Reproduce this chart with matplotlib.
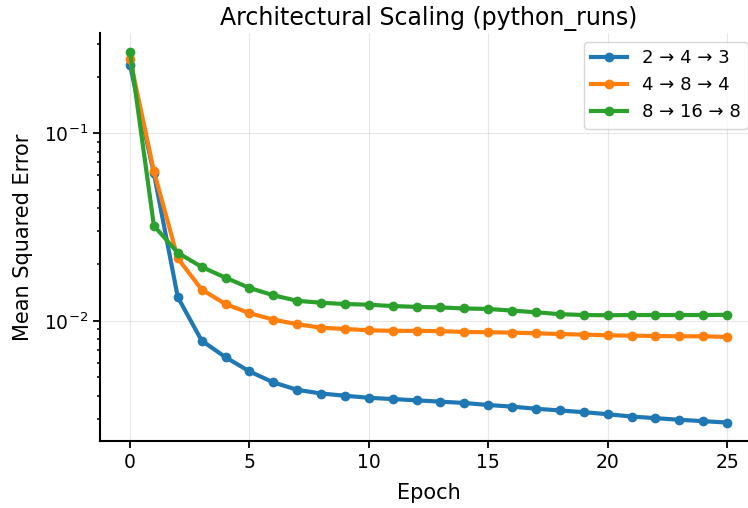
import matplotlib.pyplot as plt
import numpy as np

epochs = list(range(26))

labels = ['2 → 4 → 3', '4 → 8 → 4', '8 → 16 → 8']

mse_small = [0.231, 0.0612, 0.0134, 0.00785, 0.00640, 0.00538, 0.00470, 0.00429,
             0.00410, 0.00399, 0.00389, 0.00383, 0.00377, 0.00371, 0.00365, 0.00356,
             0.00349, 0.00340, 0.00333, 0.00326, 0.00318, 0.00309, 0.00303, 0.00297,
             0.00292, 0.00287]
mse_medium = [0.250, 0.0629, 0.0216, 0.0147, 0.0123, 0.0110, 0.01016, 0.00960,
              0.00920, 0.00906, 0.00891, 0.00885, 0.00885, 0.00882, 0.00873, 0.00870,
              0.00866, 0.00859, 0.00851, 0.00845, 0.00838, 0.00834, 0.00831, 0.00828,
              0.00828, 0.00821]
mse_large = [0.273, 0.0322, 0.0231, 0.0194, 0.0170, 0.0150, 0.0137, 0.0128,
             0.0125, 0.0123, 0.0122, 0.0120, 0.01188, 0.01180, 0.01165, 0.01158,
             0.01135, 0.01112, 0.01086, 0.01075, 0.01072, 0.01075, 0.01075, 0.01075,
             0.01075, 0.01078]

colors = ['#1f77b4', '#ff7f0e', '#2ca02c']

fig = plt.figure(figsize=(7.48, 5.08), dpi=100)
ax = fig.add_axes([0.1339, 0.132, 0.878, 0.803])

for series, label, color in zip([mse_small, mse_medium, mse_large], labels, colors):
    ax.plot(epochs, series, '-o', color=color, label=label, linewidth=3, markersize=6)

ax.set_yscale('log')
ax.set_xlim(-1.25, 26.25)
ax.set_ylim(0.00229, 0.343)

ax.set_title('Architectural Scaling (python_runs)', fontsize=17)
ax.set_xlabel('Epoch', fontsize=15, labelpad=8)
ax.set_ylabel('Mean Squared Error', fontsize=15, labelpad=8)
ax.tick_params(labelsize=13.5, length=5, width=1.3)
ax.tick_params(which='minor', width=1.1)
ax.grid(True, alpha=0.3)
ax.spines['top'].set_visible(False)
ax.spines['right'].set_visible(False)
ax.spines['left'].set_linewidth(1.5)
ax.spines['bottom'].set_linewidth(1.5)
ax.legend(loc='upper right', fontsize=13)

plt.savefig('out.png', dpi=100)
